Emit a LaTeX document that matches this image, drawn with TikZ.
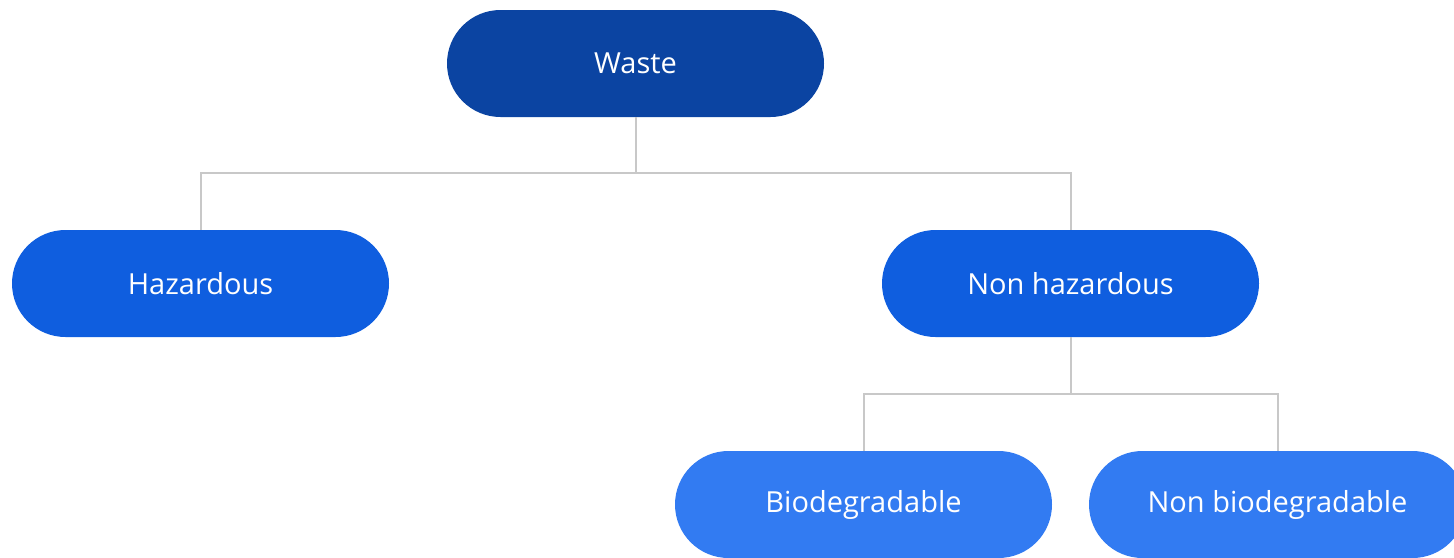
\documentclass[tikz,border=0pt]{standalone}
\usepackage{fontspec}
\setmainfont{Open Sans}
\definecolor{cdark}{HTML}{0B44A2}
\definecolor{cmid}{HTML}{0F5EDF}
\definecolor{clight}{HTML}{327BF2}
\definecolor{cline}{HTML}{C8C8C8}
\tikzset{
  pill/.style={rectangle, rounded corners=53.5pt, minimum width=377pt, minimum height=107pt,
    inner sep=0pt, text=white, font=\fontsize{29}{34}\selectfont},
  lvlA/.style={pill, fill=cdark},
  lvlB/.style={pill, fill=cmid},
  lvlC/.style={pill, fill=clight},
  conn/.style={draw=cline, line width=2pt}
}
\begin{document}
\begin{tikzpicture}[x=1pt,y=-1pt]
\useasboundingbox (0,0) rectangle (1454,557);
\clip (0,0) rectangle (1454,557);
\node[lvlA] (waste) at (635.5,63.5) {Waste};
\node[lvlB] (haz) at (200.5,283.5) {Hazardous};
\node[lvlB] (nonhaz) at (1070.5,283.5) {Non hazardous};
\node[lvlC] (bio) at (863.5,504.5) {Biodegradable};
\node[lvlC] (nonbio) at (1277.5,504.5) {Non biodegradable};
\coordinate (j1) at (635.5,173);
\coordinate (j2) at (1070.5,394);
\draw[conn] (waste.south) -- (j1);
\draw[conn] (haz.north) |- (j1) -| (nonhaz.north);
\draw[conn] (nonhaz.south) -- (j2);
\draw[conn] (bio.north) |- (j2) -| (nonbio.north);
\end{tikzpicture}
\end{document}
